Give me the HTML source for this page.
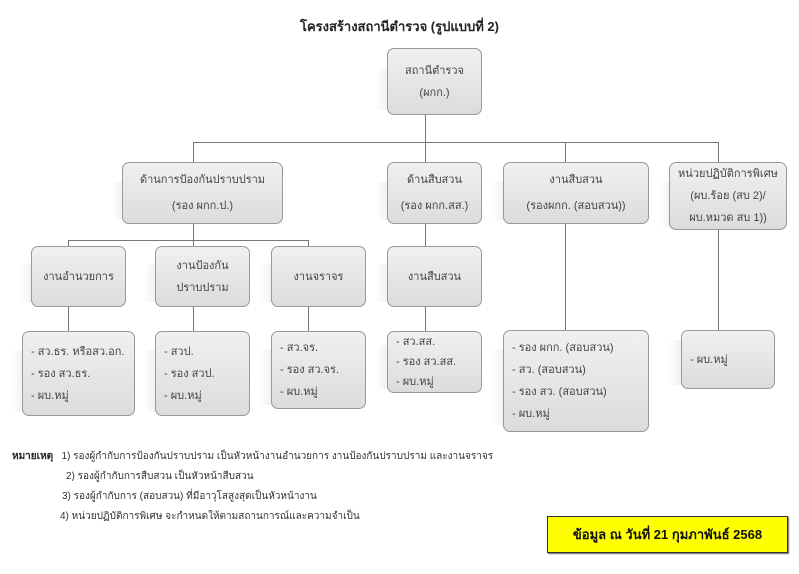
<!DOCTYPE html>
<html><head><meta charset="utf-8"><style>
body{margin:0;width:799px;height:574px;background:#fff;position:relative;overflow:hidden;font-family:"Liberation Sans","Noto Sans CJK SC",sans-serif;color:#444}
.b{position:absolute;box-sizing:border-box;border:1px solid #999;border-radius:7px;background:linear-gradient(#f0f0f0,#dcdcdc);font-size:11px;text-align:center;display:flex;flex-direction:column;justify-content:center;line-height:22px}
.s{position:absolute;background:linear-gradient(90deg,#fff,#e6e6e6);border-radius:4px}
.l{position:absolute;background:#777}
.t{text-align:left;padding-left:8px;line-height:22px}
</style></head><body>
<div style="position:absolute;left:0;width:799px;top:16px;text-align:center;font-size:13px;font-weight:bold;color:#222">โครงสร้างสถานีตำรวจ (รูปแบบที่ 2)</div>

<div class="l" style="left:425px;top:115px;width:1px;height:28px"></div>
<div class="l" style="left:193px;top:142px;width:526px;height:1px"></div>
<div class="l" style="left:193px;top:142px;width:1px;height:20px"></div>
<div class="l" style="left:425px;top:142px;width:1px;height:20px"></div>
<div class="l" style="left:565px;top:142px;width:1px;height:20px"></div>
<div class="l" style="left:718px;top:142px;width:1px;height:22px"></div>
<div class="l" style="left:193px;top:224px;width:1px;height:17px"></div>
<div class="l" style="left:68px;top:240px;width:241px;height:1px"></div>
<div class="l" style="left:68px;top:240px;width:1px;height:8px"></div>
<div class="l" style="left:308px;top:240px;width:1px;height:8px"></div>
<div class="l" style="left:193px;top:240px;width:1px;height:8px"></div>
<div class="l" style="left:425px;top:224px;width:1px;height:24px"></div>
<div class="l" style="left:68px;top:307px;width:1px;height:24px"></div>
<div class="l" style="left:193px;top:307px;width:1px;height:24px"></div>
<div class="l" style="left:308px;top:307px;width:1px;height:24px"></div>
<div class="l" style="left:425px;top:307px;width:1px;height:24px"></div>
<div class="l" style="left:565px;top:224px;width:1px;height:106px"></div>
<div class="l" style="left:718px;top:230px;width:1px;height:100px"></div>

<div class="s" style="left:376px;top:68px;width:20px;height:42px"></div>
<div class="s" style="left:112px;top:182px;width:20px;height:38px"></div>
<div class="s" style="left:376px;top:182px;width:20px;height:38px"></div>
<div class="s" style="left:492px;top:182px;width:20px;height:38px"></div>
<div class="s" style="left:659px;top:182px;width:20px;height:45px"></div>
<div class="s" style="left:20px;top:264px;width:20px;height:38px"></div>
<div class="s" style="left:144px;top:264px;width:20px;height:38px"></div>
<div class="s" style="left:260px;top:264px;width:20px;height:38px"></div>
<div class="s" style="left:376px;top:264px;width:20px;height:38px"></div>
<div class="s" style="left:12px;top:350px;width:20px;height:62px"></div>
<div class="s" style="left:144px;top:350px;width:20px;height:62px"></div>
<div class="s" style="left:260px;top:350px;width:20px;height:55px"></div>
<div class="s" style="left:376px;top:345px;width:20px;height:44px"></div>
<div class="s" style="left:492px;top:350px;width:20px;height:75px"></div>
<div class="s" style="left:669px;top:340px;width:20px;height:45px"></div>

<div class="b" style="left:387px;top:48px;width:95px;height:67px">สถานีตำรวจ<br>(ผกก.)</div>
<div class="b" style="left:122px;top:162px;width:161px;height:62px;line-height:26px">ด้านการป้องกันปราบปราม<br>(รอง ผกก.ป.)</div>
<div class="b" style="left:387px;top:162px;width:95px;height:62px;line-height:26px">ด้านสืบสวน<br>(รอง ผกก.สส.)</div>
<div class="b" style="left:503px;top:162px;width:146px;height:62px;line-height:26px">งานสืบสวน<br>(รองผกก. (สอบสวน))</div>
<div class="b" style="left:669px;top:162px;width:118px;height:68px;line-height:22px">หน่วยปฏิบัติการพิเศษ<br>(ผบ.ร้อย (สบ 2)/<br>ผบ.หมวด สบ 1))</div>

<div class="b" style="left:31px;top:246px;width:95px;height:61px">งานอำนวยการ</div>
<div class="b" style="left:155px;top:246px;width:95px;height:61px">งานป้องกัน<br>ปราบปราม</div>
<div class="b" style="left:271px;top:246px;width:95px;height:61px">งานจราจร</div>
<div class="b" style="left:387px;top:246px;width:95px;height:61px">งานสืบสวน</div>

<div class="b t" style="left:22px;top:331px;width:113px;height:85px">- สว.ธร. หรือสว.อก.<br>- รอง สว.ธร.<br>- ผบ.หมู่</div>
<div class="b t" style="left:155px;top:331px;width:95px;height:85px">- สวป.<br>- รอง สวป.<br>- ผบ.หมู่</div>
<div class="b t" style="left:271px;top:331px;width:95px;height:78px">- สว.จร.<br>- รอง สว.จร.<br>- ผบ.หมู่</div>
<div class="b t" style="left:387px;top:331px;width:95px;height:62px;line-height:20px">- สว.สส.<br>- รอง สว.สส.<br>- ผบ.หมู่</div>
<div class="b t" style="left:503px;top:330px;width:146px;height:102px">- รอง ผกก. (สอบสวน)<br>- สว. (สอบสวน)<br>- รอง สว. (สอบสวน)<br>- ผบ.หมู่</div>
<div class="b t" style="left:681px;top:330px;width:94px;height:59px">- ผบ.หมู่</div>

<div style="position:absolute;left:12px;top:447px;font-size:10px;line-height:20px;color:#333">
<div><b style="color:#222">หมายเหตุ</b>&nbsp;&nbsp; 1) รองผู้กำกับการป้องกันปราบปราม เป็นหัวหน้างานอำนวยการ งานป้องกันปราบปราม และงานจราจร</div>
<div style="padding-left:54px">2) รองผู้กำกับการสืบสวน เป็นหัวหน้าสืบสวน</div>
<div style="padding-left:50px">3) รองผู้กำกับการ (สอบสวน) ที่มีอาวุโสสูงสุดเป็นหัวหน้างาน</div>
<div style="padding-left:48px">4) หน่วยปฏิบัติการพิเศษ จะกำหนดให้ตามสถานการณ์และความจำเป็น</div>
</div>
<div style="position:absolute;left:547px;top:516px;width:241px;height:37px;box-sizing:border-box;background:#ffff00;border:1px solid #333;box-shadow:1px 1px 1px #666;font-size:13px;font-weight:bold;color:#111;text-align:center;line-height:35px">ข้อมูล ณ วันที่ 21 กุมภาพันธ์ 2568</div>
</body></html>
